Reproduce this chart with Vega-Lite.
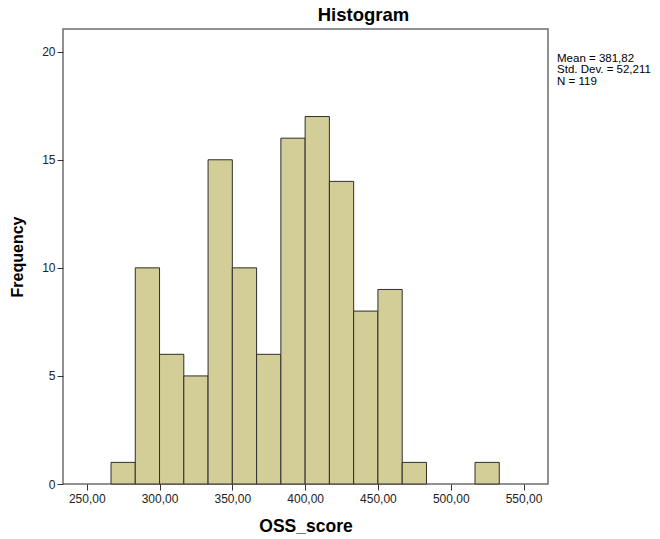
{
  "$schema": "https://vega.github.io/schema/vega-lite/v6.json",
  "width": 485,
  "height": 455,
  "autosize": {"type": "none"},
  "padding": {"left": 63, "top": 29, "right": 112, "bottom": 55},
  "background": "white",
  "config": {
    "font": "Liberation Sans",
    "view": {"stroke": "#6e6e6e", "strokeWidth": 1.5}
  },
  "title": {
    "text": "Histogram",
    "fontSize": 18.5,
    "fontWeight": "bold",
    "font": "Liberation Sans",
    "color": "#000000",
    "anchor": "middle",
    "dx": 58,
    "offset": 5
  },
  "datasets": {
    "bins": [
      {"bin_start": 266.667, "bin_end": 283.333, "count": 1},
      {"bin_start": 283.333, "bin_end": 300.0, "count": 10},
      {"bin_start": 300.0, "bin_end": 316.667, "count": 6},
      {"bin_start": 316.667, "bin_end": 333.333, "count": 5},
      {"bin_start": 333.333, "bin_end": 350.0, "count": 15},
      {"bin_start": 350.0, "bin_end": 366.667, "count": 10},
      {"bin_start": 366.667, "bin_end": 383.333, "count": 6},
      {"bin_start": 383.333, "bin_end": 400.0, "count": 16},
      {"bin_start": 400.0, "bin_end": 416.667, "count": 17},
      {"bin_start": 416.667, "bin_end": 433.333, "count": 14},
      {"bin_start": 433.333, "bin_end": 450.0, "count": 8},
      {"bin_start": 450.0, "bin_end": 466.667, "count": 9},
      {"bin_start": 466.667, "bin_end": 483.333, "count": 1},
      {"bin_start": 516.667, "bin_end": 533.333, "count": 1}
    ],
    "stats": [
      {"x": 573, "y": 19.95, "label": ["Mean = 381,82", "Std. Dev. = 52,211", "N = 119"]}
    ]
  },
  "layer": [
    {
      "data": {"name": "bins"},
      "mark": {"type": "rect", "fill": "#d3ce97", "stroke": "#2e2e2e", "strokeWidth": 1},
      "encoding": {
        "x": {
          "field": "bin_start",
          "type": "quantitative",
          "scale": {"domain": [233.7, 566.8], "nice": false, "zero": false},
          "axis": {
            "title": "OSS_score",
            "titleFontSize": 17.5,
            "titleFontWeight": "bold",
            "titleColor": "#000000",
            "titlePadding": 13,
            "values": [250, 300, 350, 400, 450, 500, 550],
            "labelExpr": "replace(format(datum.value, '.2f'), '.', ',')",
            "labelFontSize": 12,
            "labelColor": "#222222",
            "labelPadding": 3,
            "tickColor": "#333333",
            "tickSize": 6,
            "domain": false,
            "grid": false
          }
        },
        "x2": {"field": "bin_end"},
        "y": {
          "field": "count",
          "type": "quantitative",
          "scale": {"domain": [0, 21.05], "nice": false},
          "axis": {
            "title": "Frequency",
            "titleFontSize": 16,
            "titleFontWeight": "bold",
            "titleColor": "#000000",
            "titlePadding": 16,
            "values": [0, 5, 10, 15, 20],
            "labelFontSize": 12,
            "labelColor": "#222222",
            "labelPadding": 2,
            "tickColor": "#333333",
            "tickSize": 6,
            "domain": false,
            "grid": false
          }
        },
        "y2": {"datum": 0}
      }
    },
    {
      "data": {"name": "stats"},
      "mark": {
        "type": "text",
        "align": "left",
        "baseline": "top",
        "fontSize": 11.5,
        "lineHeight": 11.5,
        "color": "#000000",
        "clip": false
      },
      "encoding": {
        "x": {"field": "x", "type": "quantitative"},
        "y": {"field": "y", "type": "quantitative"},
        "text": {"field": "label"}
      }
    }
  ]
}
